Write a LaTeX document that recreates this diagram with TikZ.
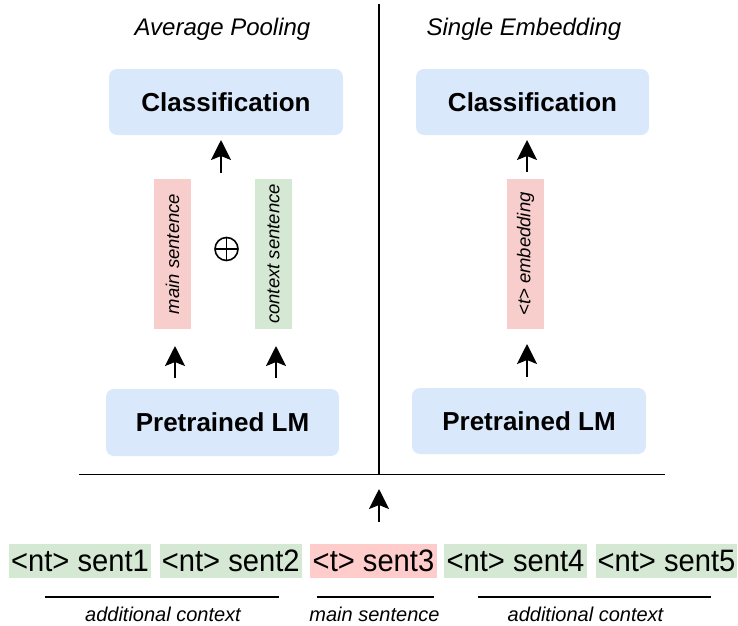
\documentclass[tikz,border=0pt]{standalone}
\usepackage{fontspec}
\setmainfont{Liberation Sans}
\usetikzlibrary{arrows.meta}
\definecolor{lblue}{HTML}{DAE8FC}
\definecolor{lred}{HTML}{F8CECC}
\definecolor{lgreen}{HTML}{D5E8D4}
\definecolor{tred}{HTML}{FFCCCC}
\begin{document}
\begin{tikzpicture}[x=1pt,y=-1pt,
  box/.style={fill=lblue, rounded corners=8pt, inner sep=0pt, font=\bfseries\fontsize{26}{30}\selectfont},
  bar/.style={rotate=90, inner sep=0pt, minimum width=150pt, minimum height=37pt, font=\itshape\fontsize{18.5}{20}\selectfont},
  tok/.style={inner sep=0pt, minimum height=34pt, text height=24pt, text depth=3pt, font=\fontsize{31}{34}\selectfont\addfontfeature{FakeStretch=0.94}},
  arr/.style={line width=2pt, -{Stealth[length=20pt,width=20pt,inset=4pt]}},
  rule/.style={line width=1.2pt},
  lbl/.style={font=\itshape\fontsize{20}{24}\selectfont, anchor=base},
  ttl/.style={font=\itshape\fontsize{24}{28}\selectfont, anchor=base}]
\useasboundingbox (0,0) rectangle (738,625);

% titles
\node[ttl] (t1) at (222.5,35) {Average Pooling};
\node[ttl] (t2) at (524,35) {Single Embedding};

% dividers
\coordinate (vtop) at (379,4);
\coordinate (vbot) at (379,474.5);
\coordinate (hl) at (78.5,474.5);
\coordinate (hr) at (665,474.5);
\draw[rule] (vtop) -- (vbot);
\draw[rule] (hl) -- (hr);

% boxes
\node[box, minimum width=234pt, minimum height=66pt] (cls1) at (226,102) {Classification};
\node[box, minimum width=233pt, minimum height=66pt] (cls2) at (532.5,102) {Classification};
\node[box, minimum width=233pt, minimum height=67pt] (plm1) at (222.5,422.5) {Pretrained LM};
\node[box, minimum width=234pt, minimum height=66pt] (plm2) at (529,421) {Pretrained LM};

% bars
\node[bar, fill=lred] (ms) at (172.5,254) {main sentence};
\node[bar, fill=lgreen] (cs) at (273.5,254) {context sentence};
\node[bar, fill=lred] (te) at (525.5,254) {<t> embedding};

% oplus
\node[draw, circle, minimum size=23pt, inner sep=0pt, line width=1.6pt,
  path picture={\draw[line width=1.6pt] (path picture bounding box.north) -- (path picture bounding box.south)
    (path picture bounding box.west) -- (path picture bounding box.east);}] (op) at (226.5,249) {};

% arrows
\coordinate (a1s) at (221,173); \coordinate (a1e) at (221,140);
\coordinate (a2s) at (175,378); \coordinate (a2e) at (175,346);
\coordinate (a3s) at (276,378); \coordinate (a3e) at (276,346);
\coordinate (a4s) at (527,172); \coordinate (a4e) at (527,140);
\coordinate (a5s) at (527,377); \coordinate (a5e) at (527,344);
\coordinate (a6s) at (379,522); \coordinate (a6e) at (379,489);
\foreach \i in {1,...,6} {\draw[arr] (a\i s) -- (a\i e);}

% tokens
\node[tok, fill=lgreen, minimum width=142pt] (s1) at (80,561) {<nt> sent1};
\node[tok, fill=lgreen, minimum width=141.5pt] (s2) at (230.75,561) {<nt> sent2};
\node[tok, fill=tred, minimum width=127pt] (s3) at (373.5,561) {<t> sent3};
\node[tok, fill=lgreen, minimum width=143pt] (s4) at (515.5,561) {<nt> sent4};
\node[tok, fill=lgreen, minimum width=141pt] (s5) at (666.5,561) {<nt> sent5};

% underlines
\coordinate (u1a) at (45,597); \coordinate (u1b) at (279,597);
\coordinate (u2a) at (317,597); \coordinate (u2b) at (434,597);
\coordinate (u3a) at (478,597); \coordinate (u3b) at (711,597);
\draw[rule] (u1a) -- (u1b);
\draw[rule] (u2a) -- (u2b);
\draw[rule] (u3a) -- (u3b);

\node[lbl] (l1) at (163,621) {additional context};
\node[lbl] (l2) at (374.5,621) {main sentence};
\node[lbl] (l3) at (585.5,621) {additional context};
\end{tikzpicture}
\end{document}
